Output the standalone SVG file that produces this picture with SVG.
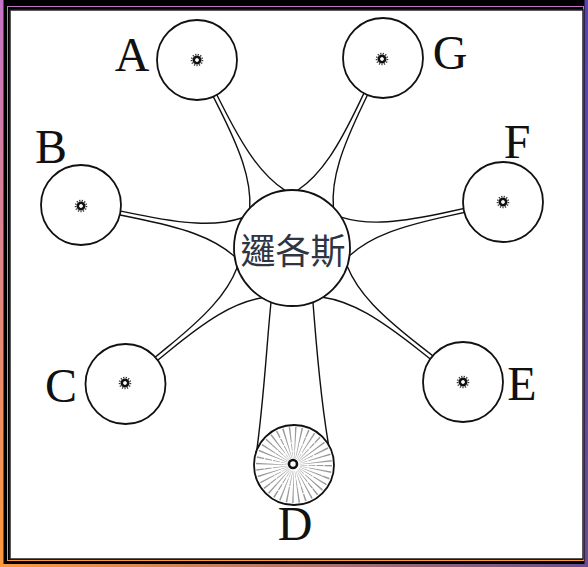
<svg xmlns="http://www.w3.org/2000/svg" width="588" height="567" viewBox="0 0 588 567">
  <style>
    .ring { fill: #fff; stroke: #111; stroke-width: 1.8; }
    .link { fill: none; stroke: #111; stroke-width: 1.4; stroke-linecap: round; }
    .lbl { font-family: "Liberation Serif", "Times New Roman", serif; font-size: 48px; fill: #111; text-anchor: middle; }
    .logos { font-family: "Noto Sans CJK TC", "Noto Sans CJK SC", sans-serif; font-size: 35px; fill: #2e3442; text-anchor: middle; dominant-baseline: central; }
    .dot { fill: #fff; stroke: #111; stroke-width: 2.6; }
    .fuzz { fill: none; stroke: #333; stroke-width: 1.6; stroke-dasharray: 1.2 1.4; }
  </style>
  <defs>
    <linearGradient id="gv" x1="0" y1="0" x2="0" y2="1">
      <stop offset="0" stop-color="#c674c8"/>
      <stop offset="1" stop-color="#ff9a3c"/>
    </linearGradient>
    <linearGradient id="gh" x1="0" y1="0" x2="1" y2="0">
      <stop offset="0" stop-color="#3434a8" stop-opacity="0"/>
      <stop offset="1" stop-color="#3434a8" stop-opacity="0.75"/>
    </linearGradient>
    <g id="flare">
      <path class="link" d="M -185,-2 L -160,-2 C -112,-2 -80,-5 -54.5,-19.8"/>
      <path class="link" d="M -185,2 L -160,2 C -112,2 -80,5 -54.5,19.8"/>
    </g>
    <g id="sun">
      <circle class="fuzz" r="5.5"/>
      <circle class="dot" r="3.2"/>
    </g>
  </defs>

  <!-- frame -->
  <rect x="0" y="0" width="588" height="567" fill="url(#gv)"/>
  <rect x="0" y="0" width="588" height="567" fill="url(#gh)"/>
  <rect x="3.5" y="0" width="581" height="564" fill="#000"/>
  <rect x="7.5" y="6.5" width="576" height="554" fill="none" stroke="url(#gv)" stroke-width="1"/>
  <rect x="10" y="10" width="573" height="549" fill="#fff" stroke="#222" stroke-width="1.5"/>

  <g id="connectors">
    <use href="#flare" transform="translate(292,248) rotate(63.19)"/>
    <use href="#flare" transform="translate(292,248) rotate(115.59)"/>
    <use href="#flare" transform="translate(292,248) rotate(11.52)"/>
    <use href="#flare" transform="translate(292,248) rotate(167.70)"/>
    <use href="#flare" transform="translate(292,248) rotate(-39.24)"/>
    <use href="#flare" transform="translate(292,248) rotate(-141.91)"/>
    <path class="link" d="M 271,302.5 C 267,340 264,400 256,456"/>
    <path class="link" d="M 313,302.5 C 316,340 320,400 330.5,456"/>
  </g>

  <g id="node-logos">
    <circle class="ring" cx="292" cy="248" r="58"/>
    <text class="logos" x="293" y="248">邏各斯</text>
  </g>

  <g id="node-A">
    <circle class="ring" cx="197" cy="60" r="40"/>
    <use href="#sun" transform="translate(197,60)"/>
    <text class="lbl" x="132" y="71">A</text>
  </g>
  <g id="node-G">
    <circle class="ring" cx="383" cy="58" r="40"/>
    <use href="#sun" transform="translate(382,59)"/>
    <text class="lbl" x="450" y="69">G</text>
  </g>
  <g id="node-B">
    <circle class="ring" cx="81" cy="205" r="40"/>
    <use href="#sun" transform="translate(81,206)"/>
    <text class="lbl" x="51" y="163">B</text>
  </g>
  <g id="node-F">
    <circle class="ring" cx="503" cy="202" r="40"/>
    <use href="#sun" transform="translate(503,202)"/>
    <text class="lbl" x="517" y="158">F</text>
  </g>
  <g id="node-C">
    <circle class="ring" cx="125.5" cy="384" r="40"/>
    <use href="#sun" transform="translate(125,383)"/>
    <text class="lbl" x="61" y="402">C</text>
  </g>
  <g id="node-E">
    <circle class="ring" cx="463" cy="382" r="40"/>
    <use href="#sun" transform="translate(463,382)"/>
    <text class="lbl" x="522" y="400">E</text>
  </g>
  <g id="node-D">
    <circle class="ring" cx="294" cy="465" r="40"/>
    <circle cx="294" cy="465" r="22" fill="none" stroke="#555" stroke-opacity="0.6" stroke-width="32" stroke-dasharray="0.9 2.94"/>
    <circle cx="294" cy="465" r="14" fill="none" stroke="#fff" stroke-width="1.2" stroke-dasharray="3 6"/>
    <circle cx="294" cy="465" r="22" fill="none" stroke="#fff" stroke-width="1.2" stroke-dasharray="4 5"/>
    <circle cx="294" cy="465" r="30" fill="none" stroke="#fff" stroke-width="1.2" stroke-dasharray="2 7"/>
    <circle cx="294" cy="465" r="6" fill="#fff"/>
    <circle cx="293" cy="464" r="4" fill="#fff" stroke="#111" stroke-width="2.6"/>
    <text class="lbl" x="295" y="540">D</text>
  </g>
</svg>
